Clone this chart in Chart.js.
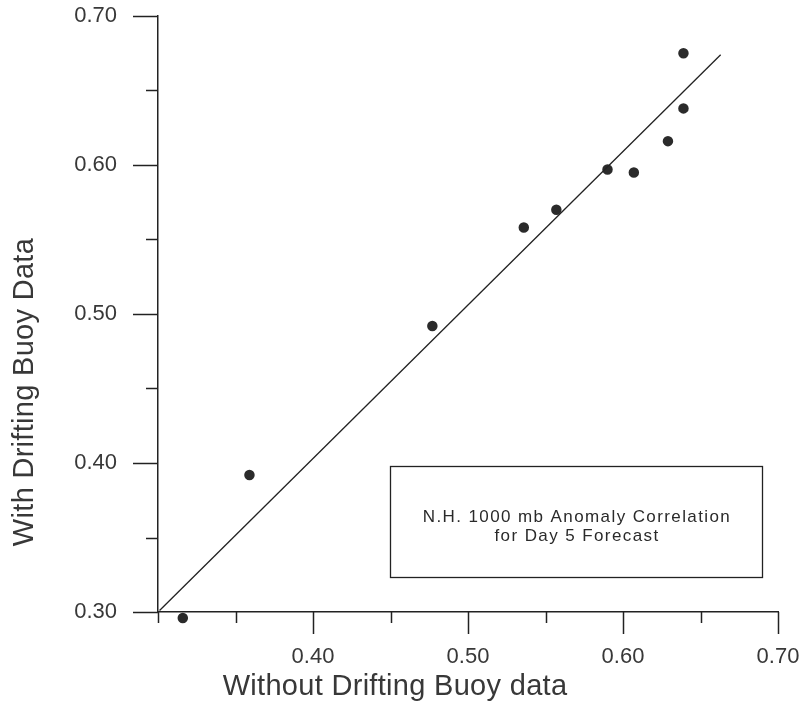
<!DOCTYPE html>
<html>
<head>
<meta charset="utf-8">
<script src="https://cdn.jsdelivr.net/npm/chart.js@4.4.1/dist/chart.umd.min.js"></script>
<style>
  body { margin: 0; background: #fff; }
</style>
</head>
<body>
<canvas id="chart" width="807" height="704"></canvas>
<script>
// values
const withoutBuoy = [0.316, 0.359, 0.477, 0.536, 0.557, 0.590, 0.607, 0.629, 0.639, 0.639];
const withBuoy = [0.296, 0.392, 0.492, 0.558, 0.570, 0.597, 0.595, 0.616, 0.638, 0.675];

// fitted line end points
const fitX = [0.301, 0.663];
const fitY = [0.301, 0.674];

const xTickValues = [0.30, 0.35, 0.40, 0.45, 0.50, 0.55, 0.60, 0.65, 0.70];
const yTickValues = [0.30, 0.35, 0.40, 0.45, 0.50, 0.55, 0.60, 0.65, 0.70];
const xTickLabels = ['0.40', '0.50', '0.60', '0.70'];
const yTickLabels = ['0.30', '0.40', '0.50', '0.60', '0.70'];

const xTitle = 'Without Drifting Buoy data';
const yTitle = 'With Drifting Buoy Data';
const boxLines = ['N.H. 1000 mb Anomaly Correlation', 'for Day 5 Forecast'];

const ink = '#222';
const textInk = '#383838';

function labelFor(list, value) {
  const s = value.toFixed(2);
  return list.includes(s) ? s : '';
}

// tick marks (long for labelled, short for the others), axis titles and the note box
const decorations = {
  id: 'decorations',
  afterDraw(chart) {
    const ctx = chart.ctx;
    const x = chart.scales.x;
    const y = chart.scales.y;
    const area = chart.chartArea;
    ctx.save();
    ctx.strokeStyle = ink;
    ctx.lineWidth = 1.5;

    x.ticks.forEach(t => {
      const px = Math.round(x.getPixelForValue(t.value)) + 0.5;
      const len = labelFor(xTickLabels, t.value) ? 22 : 11;
      ctx.beginPath();
      ctx.moveTo(px, area.bottom);
      ctx.lineTo(px, area.bottom + len);
      ctx.stroke();
    });
    y.ticks.forEach(t => {
      const py = Math.round(y.getPixelForValue(t.value)) + 0.5;
      const len = labelFor(yTickLabels, t.value) ? 25 : 12;
      ctx.beginPath();
      ctx.moveTo(area.left - len, py);
      ctx.lineTo(area.left, py);
      ctx.stroke();
    });

    ctx.fillStyle = textInk;
    ctx.font = '29px "Liberation Sans", Arial, sans-serif';
    ctx.textAlign = 'center';
    ctx.textBaseline = 'alphabetic';
    ctx.letterSpacing = '0.3px';
    ctx.fillText(xTitle, 395, 695);

    ctx.save();
    ctx.translate(33, 392);
    ctx.rotate(-Math.PI / 2);
    ctx.fillText(yTitle, 0, 0);
    ctx.restore();

    ctx.lineWidth = 1.3;
    ctx.strokeRect(390.5, 466.5, 372, 111);
    ctx.fillStyle = '#2a2a2a';
    ctx.font = '17px "Liberation Sans", Arial, sans-serif';
    ctx.letterSpacing = '1.4px';
    ctx.fillText(boxLines[0], 577, 522);
    ctx.fillText(boxLines[1], 577, 541);
    ctx.restore();
  }
};

new Chart(document.getElementById('chart'), {
  type: 'scatter',
  data: {
    datasets: [
      {
        type: 'line',
        data: fitX.map((v, i) => ({ x: v, y: fitY[i] })),
        borderColor: ink,
        borderWidth: 1.3,
        pointRadius: 0,
        fill: false,
        clip: false
      },
      {
        data: withoutBuoy.map((v, i) => ({ x: v, y: withBuoy[i] })),
        backgroundColor: '#2b2b2b',
        borderColor: '#2b2b2b',
        borderWidth: 2.5,
        pointRadius: 4,
        clip: false
      }
    ]
  },
  options: {
    responsive: false,
    animation: false,
    layout: { padding: { left: 0, top: 16, right: 29, bottom: 0 } },
    plugins: { legend: { display: false }, tooltip: { enabled: false } },
    scales: {
      x: {
        type: 'linear',
        min: 0.30,
        max: 0.70,
        afterBuildTicks: s => { s.ticks = xTickValues.map(v => ({ value: v })); },
        afterFit: s => { s.height = 92; s.paddingLeft = 0; s.paddingRight = 0; },
        grid: { display: false, drawTicks: false },
        border: { display: true, color: ink, width: 1.5 },
        ticks: {
          padding: 32,
          color: textInk,
          maxRotation: 0,
          autoSkip: false,
          font: { family: '"Liberation Sans", Arial, sans-serif', size: 22 },
          callback: v => labelFor(xTickLabels, v)
        }
      },
      y: {
        type: 'linear',
        min: 0.30,
        max: 0.70,
        afterBuildTicks: s => { s.ticks = yTickValues.map(v => ({ value: v })); },
        afterFit: s => { s.width = 158; s.paddingTop = 0; s.paddingBottom = 0; },
        grid: { display: false, drawTicks: false },
        border: { display: true, color: ink, width: 1.5 },
        ticks: {
          padding: 41,
          color: textInk,
          autoSkip: false,
          font: { family: '"Liberation Sans", Arial, sans-serif', size: 22 },
          callback: v => labelFor(yTickLabels, v)
        }
      }
    }
  },
  plugins: [decorations]
});
</script>
</body>
</html>
